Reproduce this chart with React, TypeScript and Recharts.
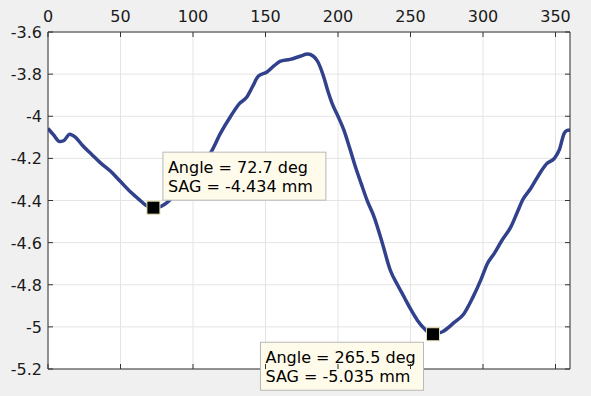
import React from "react";
import {
  LineChart,
  Line,
  XAxis,
  YAxis,
  CartesianGrid,
  ReferenceDot,
} from "recharts";

// angle (deg) and SAG (mm)
const angles = [
  0, 4, 8, 11, 15, 19, 24, 30, 36, 43, 50, 57, 63.6, 68, 72.7, 77, 82, 88, 95,
  101, 106, 112, 119, 126, 132, 137, 141, 145, 151, 156, 160, 167, 174, 179,
  183, 186, 190, 193, 196, 200, 204, 208, 212, 216, 220, 225, 230.6, 236, 241,
  245.5, 250, 254.7, 260.5, 263, 265.5, 269, 272, 280, 287, 293, 298.5, 303,
  307.8, 313, 319.3, 324, 327.3, 333, 339.9, 344, 349.2, 352.6, 356, 358, 360,
];
const sag = [
  -4.058, -4.09, -4.12, -4.115, -4.085, -4.1, -4.14, -4.18, -4.22, -4.26,
  -4.31, -4.36, -4.4, -4.425, -4.434, -4.43, -4.41, -4.37, -4.31, -4.26, -4.22,
  -4.175, -4.08, -4.0, -3.94, -3.91, -3.86, -3.81, -3.79, -3.76, -3.74, -3.73,
  -3.715, -3.705, -3.715, -3.74, -3.81, -3.88, -3.94, -4.0, -4.065, -4.15,
  -4.24, -4.32, -4.398, -4.48, -4.603, -4.73, -4.8, -4.857, -4.915, -4.968,
  -5.015, -5.03, -5.035, -5.03, -5.023, -4.98, -4.936, -4.86, -4.777, -4.7,
  -4.651, -4.59, -4.524, -4.45, -4.398, -4.342, -4.263, -4.225, -4.2, -4.16,
  -4.081, -4.067, -4.065,
];

const xTicks = [0, 50, 100, 150, 200, 250, 300, 350];
const yTicks = [-5.2, -5, -4.8, -4.6, -4.4, -4.2, -4, -3.8, -3.6];

const tips = [
  { angle: 72.7, sag: -4.434, side: "upRight" },
  { angle: 265.5, sag: -5.035, side: "downLeft" },
];

const data = angles.map((a, i) => ({ angle: a, sag: sag[i] }));

const FONT = "'DejaVu Sans', sans-serif";
const FRAME = "#333333";
const TICK_LEN = 5;

const fmt = (v: number) => String(Number(v.toFixed(1)));

const TopTick = (p: any) => {
  const axisY = p.y + 10;
  return (
    <g>
      <text x={p.x} y={p.y} textAnchor="middle" fontSize={16} fontFamily={FONT} fill="#1a1a1a">
        {fmt(p.payload.value)}
      </text>
      <line x1={p.x} x2={p.x} y1={axisY} y2={axisY + TICK_LEN} stroke={FRAME} />
    </g>
  );
};

const BottomTick = (p: any) => (
  <line x1={p.x} x2={p.x} y1={p.y} y2={p.y - TICK_LEN} stroke={FRAME} />
);

const LeftTick = (p: any) => {
  const axisX = p.x + 6;
  return (
    <g>
      <text x={p.x} y={p.y + 6} textAnchor="end" fontSize={16} fontFamily={FONT} fill="#1a1a1a">
        {fmt(p.payload.value)}
      </text>
      <line x1={axisX} x2={axisX + TICK_LEN} y1={p.y} y2={p.y} stroke={FRAME} />
    </g>
  );
};

const RightTick = (p: any) => (
  <line x1={p.x} x2={p.x - TICK_LEN} y1={p.y} y2={p.y} stroke={FRAME} />
);

const DataTip = (props: any) => {
  const { cx, cy, angle, value, side } = props;
  const w = 163;
  const h = 48;
  const left = side === "upRight" ? cx + 9.5 : cx - 172.5;
  const top = side === "upRight" ? cy - 55.5 : cy + 8;
  return (
    <g>
      <rect x={left} y={top} width={w} height={h} fill="#fffbea" stroke="#b8b8b8" />
      <text x={left + 5} y={top + 21} fontSize={16} fontFamily={FONT} fill="#000">
        {`Angle = ${angle} deg`}
      </text>
      <text x={left + 5} y={top + 40} fontSize={16} fontFamily={FONT} fill="#000">
        {`SAG = ${value.toFixed(3)} mm`}
      </text>
      <rect x={cx - 6.5} y={cy - 6.5} width={13} height={13} fill="#000" stroke="#e8e0b0" strokeWidth={1} />
    </g>
  );
};

export default function App() {
  return (
    <div
      style={{
        position: "absolute",
        left: 0,
        top: 0,
        width: 591,
        height: 396,
        background: "#f0f0f0",
      }}
    >
      <LineChart
        width={591}
        height={396}
        data={data}
        margin={{ top: 0, right: 20, bottom: 26, left: 0 }}
      >
        <CartesianGrid stroke="#e4e4e4" fill="#ffffff" />
        <XAxis
          dataKey="angle"
          type="number"
          orientation="top"
          domain={[0, 360]}
          ticks={xTicks}
          height={32}
          tickSize={0}
          tickMargin={10}
          tickLine={false}
          stroke={FRAME}
          tick={<TopTick />}
          allowDataOverflow
        />
        <XAxis
          xAxisId="b"
          dataKey="angle"
          type="number"
          orientation="bottom"
          domain={[0, 360]}
          ticks={xTicks}
          height={1}
          tickSize={0}
          tickMargin={0}
          tickLine={false}
          stroke={FRAME}
          tick={<BottomTick />}
          allowDataOverflow
        />
        <YAxis
          type="number"
          domain={[-5.2, -3.6]}
          ticks={yTicks}
          width={48}
          tickSize={0}
          tickMargin={6}
          tickLine={false}
          stroke={FRAME}
          tick={<LeftTick />}
          allowDataOverflow
        />
        <YAxis
          yAxisId="r"
          orientation="right"
          type="number"
          domain={[-5.2, -3.6]}
          ticks={yTicks}
          width={1}
          tickSize={0}
          tickMargin={0}
          tickLine={false}
          stroke={FRAME}
          tick={<RightTick />}
          allowDataOverflow
        />
        <Line
          dataKey="sag"
          type="monotone"
          stroke="#32418c"
          strokeWidth={3.5}
          dot={false}
          activeDot={false}
          isAnimationActive={false}
        />
        {tips.map((t) => (
          <ReferenceDot
            key={t.angle}
            x={t.angle}
            y={t.sag}
            ifOverflow="visible"
            shape={(p: any) => (
              <DataTip {...p} angle={t.angle} value={t.sag} side={t.side} />
            )}
          />
        ))}
      </LineChart>
    </div>
  );
}
